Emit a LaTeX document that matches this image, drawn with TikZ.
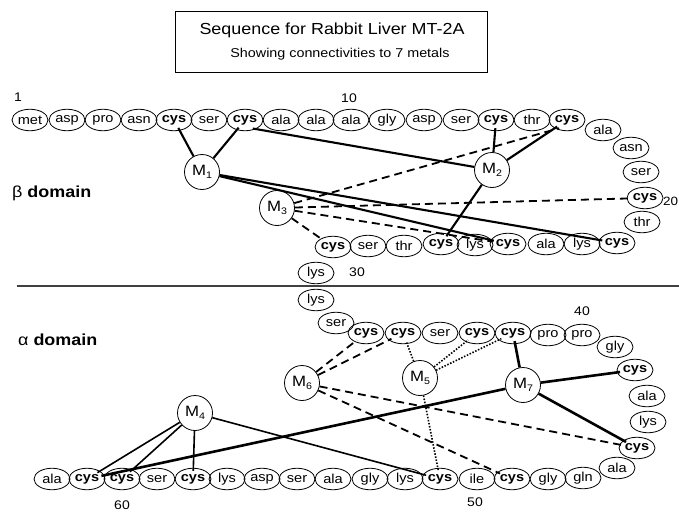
\documentclass[tikz,border=0pt]{standalone}
\usepackage{fontspec}
\setmainfont{Liberation Sans}[FakeStretch=1.12]
\usetikzlibrary{shapes.geometric}
\begin{document}
\begin{tikzpicture}[x=1pt,y=-1pt,
  res/.style={ellipse, draw, line width=0.8pt, minimum width=36pt, minimum height=21.5pt,
    inner sep=0pt, font=\fontsize{13}{13}\selectfont},
  cysres/.style={res, font=\fontsize{13}{13}\selectfont\bfseries},
  metal/.style={circle, draw, line width=0.8pt, minimum size=35pt, inner sep=0pt,
    fill=white, font=\fontsize{15}{15}\selectfont},
  bondb/.style={line width=2.1pt, shorten >=-3pt},
  bondf/.style={line width=1.6pt, shorten >=-3pt},
  bondt/.style={line width=2.6pt, shorten >=-3pt},
  dsh/.style={line width=1.8pt, dash pattern=on 8pt off 5pt, shorten >=-3pt},
  dtt/.style={line width=1.6pt, dash pattern=on 1.5pt off 1.6pt, shorten >=-3pt},
  numlab/.style={font=\fontsize{12.5}{13}\selectfont, inner sep=0pt},
  domlab/.style={font=\fontsize{16}{17}\selectfont, anchor=west, inner sep=0pt}
]
\useasboundingbox (0,0) rectangle (679,514);

% title box
\node[draw, line width=1pt, minimum width=312pt, minimum height=61pt, inner sep=0pt]
  (titlebox) at (331,42) {};
\node[font=\fontsize{16}{16}\selectfont] (title) at (332,30) {Sequence for Rabbit Liver MT-2A};
\node[font=\fontsize{12.8}{13}\selectfont] (subtitle) at (340,54) {Showing connectivities to 7 metals};

% domain separator
\coordinate (sepL) at (17,286);
\coordinate (sepR) at (679,286);
\draw[line width=1.1pt, black!75] (sepL) -- (sepR);

\node[domlab] (beta) at (12,193) {β \bfseries domain};
\node[domlab] (alpha) at (18,340) {α \bfseries domain};

% residue chain
\foreach \n/\x/\y/\s/\t in {
  1/30/120/res/met, 2/67/120/res/asp, 3/103/120/res/pro, 4/139/120/res/asn,
  5/174/120/cysres/cys, 6/209/120/res/ser, 7/245/120/cysres/cys, 8/281/120/res/ala,
  9/316/120/res/ala, 10/351/120/res/ala, 11/387/120/res/gly, 12/424/120/res/asp,
  13/461/120/res/ser, 14/496/120/cysres/cys, 15/532/120/res/thr, 16/567/120/cysres/cys,
  17/603/130/res/ala, 18/631/148/res/asn, 19/641/172/res/ser, 20/645/198/cysres/cys,
  21/642/222/res/thr, 22/617/243/cysres/cys, 23/582/244/res/lys, 24/546/244/res/ala,
  25/508/244/cysres/cys, 26/475/245/res/lys, 27/441/244/cysres/cys, 28/404/246/res/thr,
  29/368/246/res/ser, 30/333/247/cysres/cys, 31/316/273/res/lys, 32/316/300/res/lys,
  33/336/323/res/ser, 34/366/333/cysres/cys, 35/403/333/cysres/cys, 36/440/333/res/ser,
  37/477/333/cysres/cys, 38/513/333/cysres/cys, 39/548/335/res/pro, 40/582/335/res/pro,
  41/615/347/res/gly, 42/635/370/cysres/cys, 43/647/396/res/ala, 44/648/422/res/lys,
  45/637/448/cysres/cys, 46/617/468/res/ala, 47/583/478/res/gln, 48/548/479/res/gly,
  49/512/479/cysres/cys, 50/477/479/res/ile, 51/440/479/cysres/cys, 52/405/479/res/lys,
  53/370/479/res/gly, 54/333/479/res/ala, 55/297/479/res/ser, 56/262/479/res/asp,
  57/227/479/res/lys, 58/193/479/cysres/cys, 59/157/479/res/ser, 60/122/479/cysres/cys,
  61/87/479/cysres/cys, 62/52/479/res/ala}
  \node[\s] (r\n) at (\x,\y) {\t};

% sequence numbers
\node[numlab] (n1) at (18,97) {1};
\node[numlab] (n10) at (349,98) {10};
\node[numlab, anchor=west, font=\fontsize{12}{12}\selectfont] (n20) at (663,201) {20};
\node[numlab] (n30) at (357,272) {30};
\node[numlab] (n40) at (582,311) {40};
\node[numlab] (n50) at (475,502) {50};
\node[numlab] (n60) at (122,505) {60};

% metal sites
\newcommand{\metlab}[1]{M\raisebox{-3.5pt}{\fontsize{9.5}{10}\selectfont #1}}
\node[metal] (M1) at (202,172) {\metlab{1}};
\node[metal] (M2) at (492,170) {\metlab{2}};
\node[metal] (M3) at (277,208) {\metlab{3}};
\node[metal] (M4) at (195,413) {\metlab{4}};
\node[metal] (M5) at (420,378) {\metlab{5}};
\node[metal] (M6) at (302,383) {\metlab{6}};
\node[metal] (M7) at (523,385) {\metlab{7}};

% beta domain connectivities
\draw[bondb] (M1) -- (r5);
\draw[bondb] (M1) -- (r7);
\draw[bondb] (M1) -- (r22);
\draw[bondb] (M1) -- (r25);
\draw[bondb] (M2) -- (r7.-40);
\draw[bondb] (M2) -- (r14);
\draw[bondb] (M2) -- (r16);
\draw[bondb] (M2) -- (r27);
\draw[dsh] (M3) -- (r16.-140);
\draw[dsh] (M3) -- (r20);
\draw[dsh] (M3) -- (r25);
\draw[dsh] (M3) -- (r30);

% alpha domain connectivities
\draw[bondf] (M4) -- (r61);
\draw[bondf] (M4) -- (r60);
\draw[bondf] (M4) -- (r58);
\draw[bondf] (M4) -- (r51);
\draw[dtt] (M5) -- (r35);
\draw[dtt] (M5) -- (r37);
\draw[dtt] (M5) -- (r38);
\draw[dtt] (M5) -- (r51);
\draw[dsh] (M6) -- (r34);
\draw[dsh] (M6) -- (r35);
\draw[dsh] (M6) -- (r45);
\draw[dsh] (M6) -- (r49);
\draw[bondt] (M7) -- (r38);
\draw[bondt] (M7) -- (r42);
\draw[bondt] (M7) -- (r45);
\draw[bondt] (M7) -- (r61);
\end{tikzpicture}
\end{document}
